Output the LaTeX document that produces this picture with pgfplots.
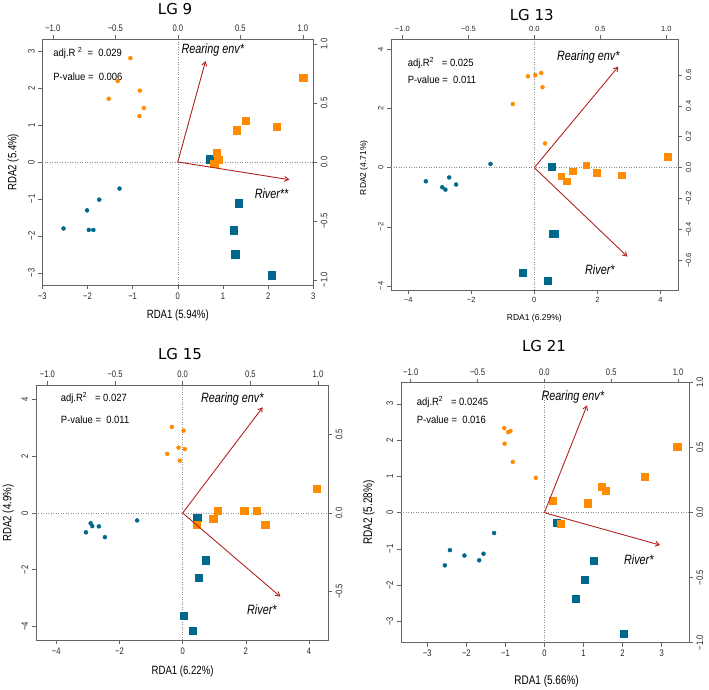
\documentclass[border=0pt]{standalone}
\usepackage{fontspec}
\usepackage{pgfplots}
\pgfplotsset{compat=1.18}
\usetikzlibrary{arrows.meta}
\setmainfont{Liberation Sans}
\newfontfamily\nfA[FakeStretch=0.8]{Liberation Sans}
\newfontfamily\nfB[FakeStretch=0.8]{Liberation Sans}
\newfontfamily\nfC[FakeStretch=0.9]{Liberation Sans}
\newfontfamily\ttl{DejaVu Sans}
\definecolor{dorange}{RGB}{255,140,0}
\definecolor{dblue}{RGB}{0,104,139}
\definecolor{arrred}{RGB}{178,34,34}
\definecolor{boxc}{RGB}{100,100,100}
\pgfplotsset{
  ocirc/.style={only marks, mark=*, mark size=2pt, color=dorange},
  bcirc/.style={only marks, mark=*, mark size=2pt, color=dblue},
  osq/.style={only marks, mark=square*, mark size=#1, color=dorange},
  bsq/.style={only marks, mark=square*, mark size=#1, color=dblue},
  zline/.style={dotted, color=black!45, line width=0.5pt},
  rdaarrow/.style={color=arrred, line width=0.9pt, -{Straight Barb[length=4pt,width=5pt]}},
  base/.style={scale only axis, anchor=south west, clip=false,
    axis line style={boxc}, tick style={boxc, line width=0.5pt},
    major tick length=4pt, tick align=outside,
    ticklabel style={text=black!85}},
  mainax/.style={base, xtick pos=left, ytick pos=left,
    yticklabel style={rotate=90, anchor=south}},
  secax/.style={base, axis x line*=top, axis y line*=right,
    yticklabel style={rotate=90, anchor=north}},
  tkA/.style={ticklabel style={font=\nfA\fontsize{9.5}{10}\selectfont}},
  tkB/.style={ticklabel style={font=\fontsize{7.5}{8}\selectfont}},
}
\newcommand\lab{\nfB\fontsize{12}{13}\selectfont}
\newcommand\arr{\nfB\itshape\fontsize{13.5}{14}\selectfont}
\newcommand\ann{\nfC\fontsize{10.5}{11}\selectfont}
\begin{document}
\begin{tikzpicture}
\useasboundingbox (0,0) rectangle (709pt,690pt);
%% ---------------- LG 9 ----------------
\begin{axis}[mainax, tkA, at={(42.3pt,405pt)}, width=271pt, height=245.7pt,
  xmin=-3, xmax=3, ymin=-3.33, ymax=3.32,
  xtick={-3,-2,-1,0,1,2,3}, xticklabels={−3,−2,−1,0,1,2,3},
  ytick={-3,-2,-1,0,1,2,3}, yticklabels={−3,−2,−1,0,1,2,3}]
\addplot[zline] coordinates {(0,-3.33) (0,3.32)};
\addplot[zline] coordinates {(-3,0) (3,0)};
\addplot[ocirc] coordinates {(-1.05,2.81) (-1.33,2.19) (-0.84,1.93) (-1.53,1.71) (-0.75,1.46) (-0.85,1.24)};
\addplot[bcirc] coordinates {(-1.29,-0.72) (-1.74,-1.02) (-2.01,-1.31) (-2.53,-1.80) (-1.97,-1.84) (-1.87,-1.84)};
\addplot[bsq=3.8pt] coordinates {(0.72,0.08) (1.35,-1.12) (1.24,-1.84) (1.27,-2.50) (2.08,-3.07)};
\addplot[osq=3.8pt] coordinates {(2.78,2.28) (1.50,1.12) (1.30,0.86) (2.19,0.95) (0.86,0.25) (0.90,0.06) (0.81,-0.05)};
\node[font=\ttl\fontsize{15}{16}\selectfont] at (axis description cs:0.49,1.123) {LG 9};
\node[font=\lab] at (axis description cs:0.5,-0.122) {RDA1 (5.94\%)};
\node[font=\lab, rotate=90] at (axis description cs:-0.107,0.5) {RDA2 (5.4\%)};
\node[font=\ann, anchor=west] at (axis description cs:0.028,0.943) {adj.R \textsuperscript{2}\ \ = \ 0.029};
\node[font=\ann, anchor=west] at (axis description cs:0.028,0.847) {P-value = \ 0.006};
\node[font=\arr] at (axis description cs:0.629,0.956) {Rearing env*};
\node[font=\arr] at (axis description cs:0.846,0.373) {River**};
\end{axis}
\begin{axis}[secax, tkA, at={(42.3pt,405pt)}, width=271pt, height=245.7pt,
  xmin=-1.084, xmax=1.084, ymin=-1.043, ymax=1.04,
  xtick={-1,-0.5,0,0.5,1}, xticklabels={−1.0,−0.5,0.0,0.5,1.0},
  ytick={-1,-0.5,0,0.5,1}, yticklabels={−1.0,−0.5,0.0,0.5,1.0}]
\addplot[rdaarrow] coordinates {(0,0) (0.222,0.856)};
\addplot[rdaarrow] coordinates {(0,0) (0.892,-0.150)};
\end{axis}
%% ---------------- LG 13 ----------------
\begin{axis}[mainax, tkB, at={(391pt,400pt)}, width=287.3pt, height=250.7pt,
  xmin=-4.545, xmax=4.567, ymin=-4.135, ymax=4.34,
  xtick={-4,-2,0,2,4}, xticklabels={−4,−2,0,2,4},
  ytick={-4,-2,0,2,4}, yticklabels={−4,−2,0,2,4}]
\addplot[zline] coordinates {(0,-4.135) (0,4.34)};
\addplot[zline] coordinates {(-4.545,0) (4.567,0)};
\addplot[ocirc] coordinates {(0.22,3.20) (0.03,3.13) (-0.20,3.09) (0.26,2.72) (-0.68,2.15) (0.34,0.82)};
\addplot[bcirc] coordinates {(-1.39,0.125) (-3.44,-0.46) (-2.70,-0.33) (-2.48,-0.57) (-2.92,-0.66) (-2.82,-0.74)};
\addplot[bsq=3.3pt] coordinates {(0.55,0.03) (0.58,-2.24) (0.64,-2.24) (-0.37,-3.55) (0.43,-3.83)};
\addplot[osq=3.3pt] coordinates {(0.85,-0.29) (1.03,-0.46) (1.22,-0.12) (1.65,0.09) (1.97,-0.16) (2.77,-0.26) (4.23,0.37)};
\node[font=\ttl\fontsize{15}{16}\selectfont] at (axis description cs:0.49,1.097) {LG 13};
\node[font=\fontsize{8.5}{9}\selectfont] at (axis description cs:0.499,-0.113) {RDA1 (6.29\%)};
\node[font=\fontsize{8.5}{9}\selectfont, rotate=90] at (axis description cs:-0.094,0.488) {RDA2 (4.71\%)};
\node[font=\ann, anchor=west] at (axis description cs:0.046,0.904) {adj.R\textsuperscript{2} \ \ = 0.025};
\node[font=\ann, anchor=west] at (axis description cs:0.046,0.838) {P-value = \ 0.011};
\node[font=\arr] at (axis description cs:0.687,0.928) {Rearing env*};
\node[font=\arr] at (axis description cs:0.727,0.083) {River*};
\end{axis}
\begin{axis}[secax, tkB, at={(391pt,400pt)}, width=287.3pt, height=250.7pt,
  xmin=-1.086, xmax=1.091, ymin=-0.791, ymax=0.830,
  xtick={-1,-0.5,0,0.5,1}, xticklabels={−1.0,−0.5,0.0,0.5,1.0},
  ytick={-0.6,-0.4,-0.2,0,0.2,0.4,0.6}, yticklabels={−0.6,−0.4,−0.2,0.0,0.2,0.4,0.6}]
\addplot[rdaarrow] coordinates {(0,0) (0.636,0.653)};
\addplot[rdaarrow] coordinates {(0,0) (0.705,-0.575)};
\end{axis}
%% ---------------- LG 15 ----------------
\begin{axis}[mainax, tkA, at={(35.7pt,50pt)}, width=292.6pt, height=255pt,
  xmin=-4.65, xmax=4.61, ymin=-4.48, ymax=4.52,
  xtick={-4,-2,0,2,4}, xticklabels={−4,−2,0,2,4},
  ytick={-4,-2,0,2,4}, yticklabels={−4,−2,0,2,4}]
\addplot[zline] coordinates {(0,-4.48) (0,4.52)};
\addplot[zline] coordinates {(-4.65,0) (4.61,0)};
\addplot[ocirc] coordinates {(-0.34,3.04) (0.03,2.91) (-0.13,2.31) (0.07,2.26) (-0.49,2.09) (-0.09,1.85)};
\addplot[bcirc] coordinates {(-1.44,-0.26) (-2.91,-0.36) (-2.86,-0.46) (-2.65,-0.47) (-3.06,-0.68) (-2.46,-0.85)};
\addplot[bsq=3.6pt] coordinates {(0.46,-0.16) (0.72,-1.66) (0.52,-2.27) (0.04,-3.62) (0.33,-4.14)};
\addplot[osq=3.6pt] coordinates {(0.44,-0.42) (1.10,0.09) (0.97,-0.21) (1.95,0.09) (2.34,0.09) (2.61,-0.40) (4.25,0.86)};
\node[font=\ttl\fontsize{15}{16}\selectfont] at (axis description cs:0.493,1.122) {LG 15};
\node[font=\lab] at (axis description cs:0.502,-0.124) {RDA1 (6.22\%)};
\node[font=\lab, rotate=90] at (axis description cs:-0.094,0.498) {RDA2 (4.9\%)};
\node[font=\ann, anchor=west] at (axis description cs:0.074,0.948) {adj.R\textsuperscript{2} \ \ = 0.027};
\node[font=\ann, anchor=west] at (axis description cs:0.074,0.865) {P-value = \ 0.011};
\node[font=\arr] at (axis description cs:0.672,0.944) {Rearing env*};
\node[font=\arr] at (axis description cs:0.773,0.118) {River*};
\end{axis}
\begin{axis}[secax, tkA, at={(35.7pt,50pt)}, width=292.6pt, height=255pt,
  xmin=-1.086, xmax=1.076, ymin=-0.809, ymax=0.815,
  xtick={-1,-0.5,0,0.5,1}, xticklabels={−1.0,−0.5,0.0,0.5,1.0},
  ytick={-0.5,0,0.5}, yticklabels={−0.5,0.0,0.5}]
\addplot[rdaarrow] coordinates {(0,0) (0.591,0.673)};
\addplot[rdaarrow] coordinates {(0,0) (0.722,-0.533)};
\end{axis}
%% ---------------- LG 21 ----------------
\begin{axis}[mainax, tkA, at={(400.7pt,47.3pt)}, width=288.3pt, height=260pt,
  xmin=-3.68, xmax=3.70, ymin=-3.58, ymax=3.58,
  xtick={-3,-2,-1,0,1,2,3}, xticklabels={−3,−2,−1,0,1,2,3},
  ytick={-3,-2,-1,0,1,2,3}, yticklabels={−3,−2,−1,0,1,2,3}]
\addplot[zline] coordinates {(0,-3.58) (0,3.58)};
\addplot[zline] coordinates {(-3.68,0) (3.70,0)};
\addplot[ocirc] coordinates {(-1.03,2.33) (-0.93,2.22) (-0.87,2.25) (-1.02,1.90) (-0.81,1.40) (-0.22,0.96)};
\addplot[bcirc] coordinates {(-1.29,-0.56) (-2.42,-1.03) (-2.05,-1.18) (-1.56,-1.13) (-1.67,-1.31) (-2.55,-1.45)};
\addplot[bsq=3.6pt] coordinates {(0.32,-0.27) (1.25,-1.33) (1.03,-1.84) (0.80,-2.37) (2.02,-3.33)};
\addplot[osq=3.6pt] coordinates {(3.40,1.82) (2.56,1.00) (1.46,0.71) (1.56,0.60) (1.10,0.26) (0.22,0.33) (0.42,-0.30)};
\node[font=\ttl\fontsize{15}{16}\selectfont] at (axis description cs:0.497,1.141) {LG 21};
\node[font=\nfB\fontsize{12.5}{13}\selectfont] at (axis description cs:0.506,-0.15) {RDA1 (5.66\%)};
\node[font=\nfB\fontsize{12.5}{13}\selectfont, rotate=90] at (axis description cs:-0.11,0.5) {RDA2 (5.28\%)};
\node[font=\ann, anchor=west] at (axis description cs:0.044,0.927) {adj.R\textsuperscript{2} \ \ = 0.0245};
\node[font=\ann, anchor=west] at (axis description cs:0.044,0.859) {P-value = \ 0.016};
\node[font=\arr] at (axis description cs:0.597,0.946) {Rearing env*};
\node[font=\arr] at (axis description cs:0.826,0.318) {River*};
\end{axis}
\begin{axis}[secax, tkA, at={(400.7pt,47.3pt)}, width=288.3pt, height=260pt,
  xmin=-1.075, xmax=1.082, ymin=-1, ymax=1,
  xtick={-1,-0.5,0,0.5,1}, xticklabels={−1.0,−0.5,0.0,0.5,1.0},
  ytick={-1,-0.5,0,0.5,1}, yticklabels={−1.0,−0.5,0.0,0.5,1.0}]
\addplot[rdaarrow] coordinates {(0,0) (0.319,0.826)};
\addplot[rdaarrow] coordinates {(0,0) (0.865,-0.249)};
\end{axis}
\end{tikzpicture}
\end{document}
